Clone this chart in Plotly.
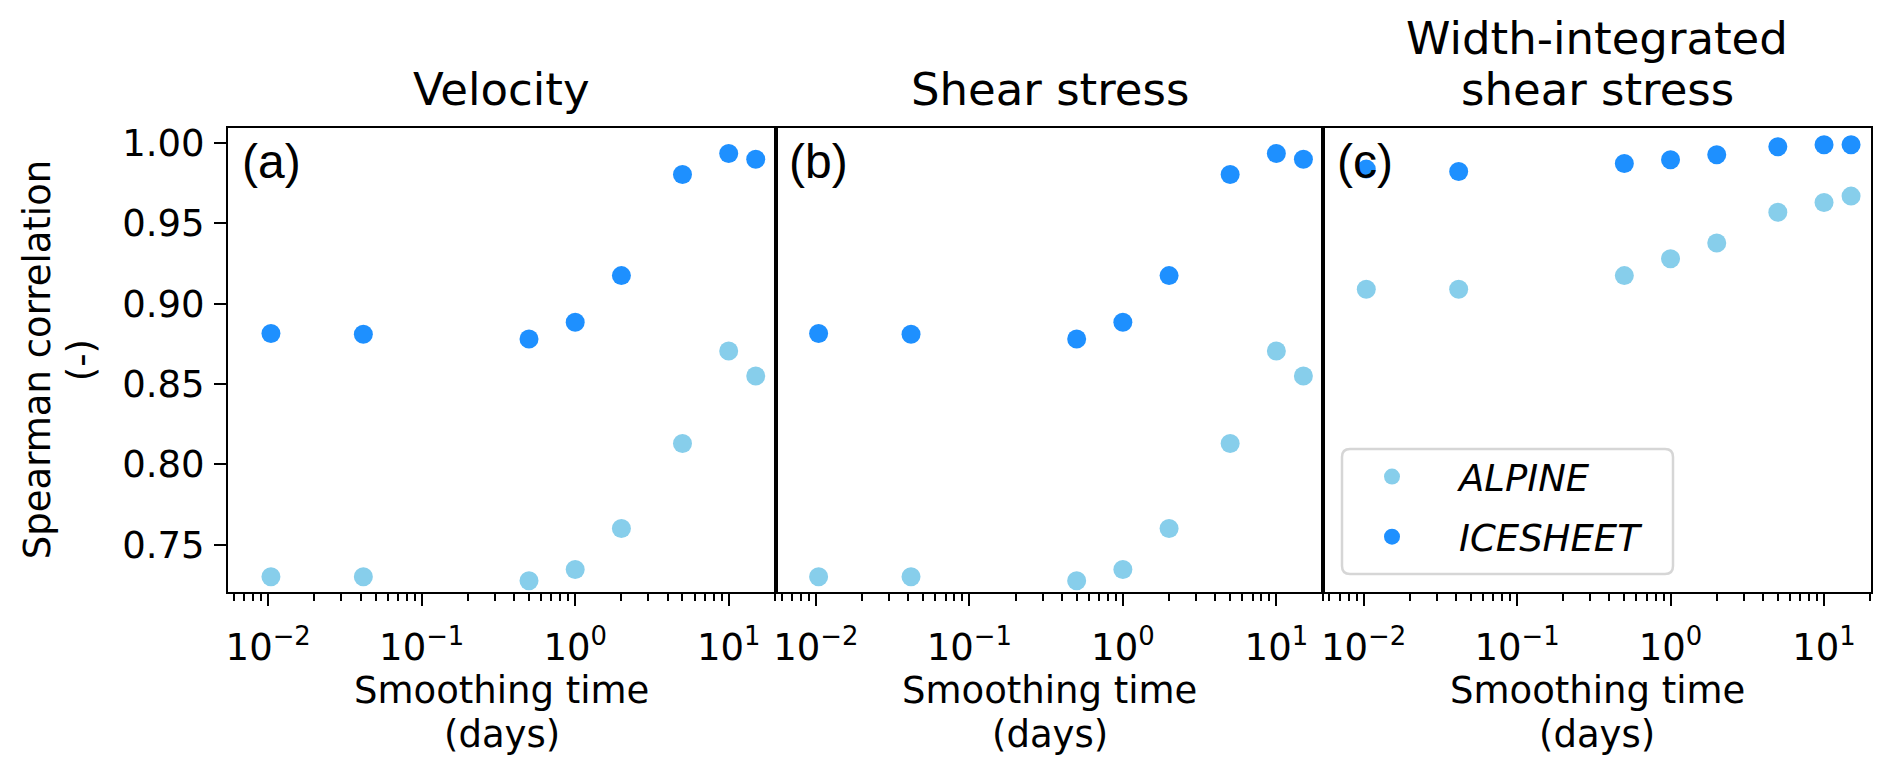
import plotly.graph_objects as go

# ---- data ----
smoothing_days = [1/96, 1/24, 0.5, 1, 2, 5, 10, 15]

velocity_alpine = [0.730, 0.730, 0.7275, 0.7345, 0.760, 0.813, 0.8705, 0.855]
velocity_icesheet = [0.8815, 0.881, 0.878, 0.8885, 0.9175, 0.9805, 0.9935, 0.990]

shear_alpine = [0.730, 0.730, 0.7275, 0.7345, 0.760, 0.813, 0.8705, 0.855]
shear_icesheet = [0.8815, 0.881, 0.878, 0.8885, 0.9175, 0.9805, 0.9935, 0.990]

width_alpine = [0.909, 0.909, 0.9175, 0.928, 0.9378, 0.957, 0.963, 0.967]
width_icesheet = [0.9838, 0.9823, 0.9873, 0.9896, 0.9927, 0.9977, 0.999, 0.999]

panel_titles = [["Velocity"], ["Shear stress"], ["Width-integrated", "shear stress"]]
panel_letters = ["(a)", "(b)", "(c)"]
series_names = ["ALPINE", "ICESHEET"]
series_colors = ["#87CEEB", "#1E90FF"]
x_title_lines = ["Smoothing time", "(days)"]
y_title_lines = ["Spearman correlation", "(-)"]

y_ticks = [0.75, 0.80, 0.85, 0.90, 0.95, 1.00]
y_ticktext = ["0.75", "0.80", "0.85", "0.90", "0.95", "1.00"]
x_ticks = [0.01, 0.1, 1, 10]
x_ticktext = ["10<sup>\u22122</sup>", "10<sup>\u22121</sup>", "10<sup>0</sup>", "10<sup>1</sup>"]
x_minor = [m * 10.0 ** e for e in (-3, -2, -1, 0, 1) for m in range(2, 10)]

panels = [
    (velocity_alpine, velocity_icesheet),
    (shear_alpine, shear_icesheet),
    (width_alpine, width_icesheet),
]

FONT = "DejaVu Sans"
W, H = 1892, 774
ML, MR, MT, MB = 228, 21, 128, 182
PW, PH = W - ML - MR, H - MT - MB


def px_x(px):
    return (px - ML) / PW


def px_y(py):
    return (H - MB - py) / PH


def center_from_baseline(baseline, size, asc=0.928, desc=0.236):
    return baseline - (asc - desc) / 2 * size


fig = go.Figure()

n = 3
for i, (alp, ice) in enumerate(panels):
    xa = "x" if i == 0 else f"x{i+1}"
    ya = "y" if i == 0 else f"y{i+1}"
    for vals, name, col in zip((alp, ice), series_names, series_colors):
        fig.add_trace(go.Scatter(
            x=smoothing_days, y=vals, mode="markers", name=name,
            legendgroup=name,
            marker=dict(color=col, size=19, line=dict(width=0)),
            xaxis=xa, yaxis=ya, showlegend=(i == 2),
        ))

axis_common = dict(showline=True, mirror=True, linecolor="black", linewidth=2,
                   showgrid=False, zeroline=False, automargin=False)

# legend frame (rounded box) drawn in paper coordinates
lx0, lx1 = px_x(1342), px_x(1673)
ly1, ly0 = px_y(449), px_y(574)
rx, ry = 8 / PW, 8 / PH
legend_path = (
    f"M {lx0+rx},{ly0} L {lx1-rx},{ly0} Q {lx1},{ly0} {lx1},{ly0+ry} "
    f"L {lx1},{ly1-ry} Q {lx1},{ly1} {lx1-rx},{ly1} "
    f"L {lx0+rx},{ly1} Q {lx0},{ly1} {lx0},{ly1-ry} "
    f"L {lx0},{ly0+ry} Q {lx0},{ly0} {lx0+rx},{ly0} Z"
)

layout = dict(
    width=W, height=H,
    margin=dict(l=ML, r=MR, t=MT, b=MB, autoexpand=False),
    plot_bgcolor="white", paper_bgcolor="white",
    font=dict(family=FONT, size=37, color="black"),
    legend=dict(
        x=px_x(1325), y=px_y(446), xanchor="left", yanchor="top",
        bgcolor="rgba(0,0,0,0)", borderwidth=0,
        font=dict(family=FONT, size=37, style="italic", color="black"),
        itemwidth=124, tracegroupgap=9, itemsizing="trace",
    ),
    shapes=[dict(type="path", path=legend_path, xref="paper", yref="paper",
                 fillcolor="rgba(255,255,255,0.8)",
                 line=dict(color="#d6d6d6", width=2.5), layer="above")],
    annotations=[],
)

for i in range(n):
    xk = "xaxis" if i == 0 else f"xaxis{i+1}"
    yk = "yaxis" if i == 0 else f"yaxis{i+1}"
    d0, d1 = i / n, (i + 1) / n
    layout[xk] = dict(
        axis_common, type="log", domain=[d0, d1], range=[-2.262, 1.306],
        anchor="y" if i == 0 else f"y{i+1}",
        tickmode="array", tickvals=x_ticks, ticktext=x_ticktext,
        ticks="outside", ticklen=12, tickwidth=2, tickcolor="black",
        ticklabelstandoff=10,
        minor=dict(tickmode="array", tickvals=x_minor, ticks="outside",
                   ticklen=7, tickwidth=1.6, tickcolor="black", showgrid=False),
        tickfont=dict(family=FONT, size=37),
    )
    ydict = dict(
        axis_common, range=[0.7205, 1.0094], domain=[0, 1],
        anchor="x" if i == 0 else f"x{i+1}",
    )
    if i == 0:
        ydict.update(tickmode="array", tickvals=y_ticks, ticktext=y_ticktext,
                     ticks="outside", ticklen=12, tickwidth=2, tickcolor="black",
                     ticklabelstandoff=2,
                     tickfont=dict(family=FONT, size=37))
    else:
        ydict.update(showticklabels=False, ticks="", matches="y")
    layout[yk] = ydict

# panel letters, titles, x-axis titles
for i in range(n):
    xr = "x domain" if i == 0 else f"x{i+1} domain"
    yr = "y domain" if i == 0 else f"y{i+1} domain"
    layout["annotations"].append(dict(
        text=panel_letters[i], xref=xr, yref=yr, x=0.0212,
        y=(H - MB - center_from_baseline(178, 48, 0.905, 0.212)) / PH,
        xanchor="left", yanchor="middle", showarrow=False,
        font=dict(family="Liberation Sans", size=48, color="black"),
    ))
    lines = panel_titles[i]
    for j, line in enumerate(reversed(lines)):
        baseline = 105 - j * 51
        layout["annotations"].append(dict(
            text=line, xref=xr, yref="paper", x=0.5,
            y=px_y(center_from_baseline(baseline, 45)),
            xanchor="center", yanchor="middle", showarrow=False,
            font=dict(family=FONT, size=45, color="black"),
        ))
    for j, line in enumerate(x_title_lines):
        baseline = 703 + j * 44
        layout["annotations"].append(dict(
            text=line, xref=xr, yref="paper", x=0.5,
            y=px_y(center_from_baseline(baseline, 37)),
            xanchor="center", yanchor="middle", showarrow=False,
            font=dict(family=FONT, size=37, color="black"),
        ))

# y-axis title (two rotated lines)
for j, line in enumerate(y_title_lines):
    baseline_x = 50 + j * 44
    layout["annotations"].append(dict(
        text=line, xref="paper", yref="paper",
        x=px_x(center_from_baseline(baseline_x, 37)), y=0.5,
        xanchor="center", yanchor="middle", textangle=-90, showarrow=False,
        font=dict(family=FONT, size=37, color="black"),
    ))

fig.update_layout(**layout)
fig.write_html(
    "out.html",
    config={"displayModeBar": False},
    post_script="document.body.style.margin='0';document.body.style.overflow='hidden';",
)
